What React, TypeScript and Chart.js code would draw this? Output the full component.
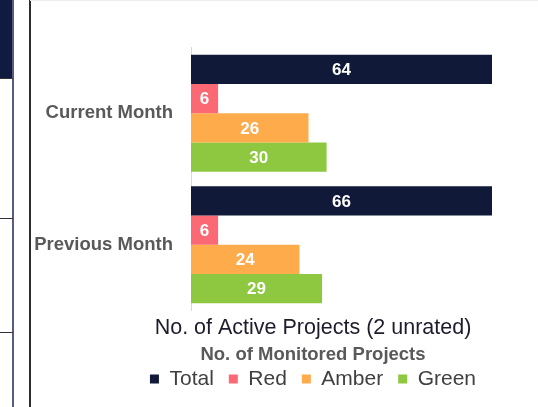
import React, { useEffect, useRef } from "react";
import { Chart, registerables } from "chart.js";

Chart.register(...registerables);

const categories = ["Current Month", "Previous Month"];
const totalValues = [64, 66];
const redValues = [6, 6];
const amberValues = [26, 24];
const greenValues = [30, 29];
const seriesNames = ["Total", "Red", "Amber", "Green"];
const titleText = "No. of Active Projects (2 unrated)";
const subtitleText = "No. of Monitored Projects";

const COLORS = ["#101a38", "#fb6a74", "#fdab4b", "#8dc840"];
const FONT = "'Liberation Sans', Arial, sans-serif";

const barLabels = {
  id: "barLabels",
  afterDatasetsDraw(chart: any) {
    const ctx = chart.ctx;
    const area = chart.chartArea;
    ctx.save();
    ctx.fillStyle = "#ffffff";
    ctx.font = `bold 17px ${FONT}`;
    ctx.textAlign = "center";
    ctx.textBaseline = "middle";
    chart.data.datasets.forEach((ds: any, i: number) => {
      const meta = chart.getDatasetMeta(i);
      meta.data.forEach((el: any, j: number) => {
        const end = Math.min(el.x, area.right);
        const cx = (el.base + end) / 2;
        ctx.fillText(String(ds.data[j]), cx, el.y + 1);
      });
    });
    ctx.restore();
  },
};

export default function App() {
  const ref = useRef<HTMLCanvasElement>(null);
  useEffect(() => {
    if (!ref.current) return;
    const values = [totalValues, redValues, amberValues, greenValues];
    const chart = new Chart(ref.current, {
      type: "bar",
      data: {
        labels: categories,
        datasets: seriesNames.map((name, i) => ({
          label: name,
          data: values[i],
          backgroundColor: COLORS[i],
          borderWidth: 0,
          xAxisID: i === 0 ? "x2" : "x",
          categoryPercentage: 0.89,
          barPercentage: 1,
        })),
      },
      options: {
        indexAxis: "y",
        animation: false,
        responsive: true,
        maintainAspectRatio: false,
        layout: { padding: { left: 134, right: 46, top: 47.5, bottom: 7.5 } },
        scales: {
          x: { display: false, min: 0, max: 66.6 },
          x2: { display: false, min: 0, max: 64 },
          y: {
            grid: { display: false, drawTicks: false },
            border: { display: true, color: "#d9d9d9", width: 1 },
            ticks: {
              padding: 18,
              color: "#595959",
              font: { family: FONT, size: 18.5, weight: "bold" },
            },
            afterFit(scale: any) {
              scale.width = 57;
              // let the long category names extend past the narrow axis box
              scale._computeLabelArea = () => undefined;
            },
          },
        },
        plugins: {
          tooltip: { enabled: false },
          title: {
            display: true,
            text: titleText,
            position: "bottom",
            weight: 100,
            color: "#1c1c2c",
            font: { family: FONT, size: 21.5, weight: "normal" },
            padding: { top: 5, bottom: 0 },
          },
          subtitle: {
            display: true,
            text: subtitleText,
            position: "bottom",
            weight: 200,
            color: "#595959",
            font: { family: FONT, size: 18.5, weight: "bold" },
            padding: { top: 2.7, bottom: -12.8 },
          },
          legend: {
            position: "bottom",
            weight: 1000,
            labels: {
              boxWidth: 9,
              boxHeight: 9,
              padding: 15,
              color: "#404040",
              font: { family: FONT, size: 21 },
            },
          },
        },
      },
      plugins: [barLabels],
    });
    return () => chart.destroy();
  }, []);

  const line = (style: React.CSSProperties) => (
    <div style={{ position: "absolute", ...style }} />
  );

  return (
    <div
      style={{
        position: "fixed",
        left: 0,
        top: 0,
        width: 538,
        height: 407,
        background: "#ffffff",
        overflow: "hidden",
      }}
    >
      {line({ left: 0, top: 0, width: 12, height: 78, background: "#0f1c3f" })}
      {line({ left: 12, top: 0, width: 1.5, height: 407, background: "#5a5a86" })}
      {line({ left: 0, top: 78, width: 13, height: 1, background: "#333333" })}
      {line({ left: 0, top: 218, width: 13, height: 1, background: "#333333" })}
      {line({ left: 0, top: 332, width: 13, height: 1, background: "#333333" })}
      {line({ left: 29, top: 0, width: 1.5, height: 407, background: "#2e2e2e" })}
      {line({ left: 30, top: 0, width: 508, height: 1, background: "#ececec" })}
      <div style={{ position: "absolute", left: 0, top: 0, width: 538, height: 407 }}>
        <canvas ref={ref} />
      </div>
    </div>
  );
}
